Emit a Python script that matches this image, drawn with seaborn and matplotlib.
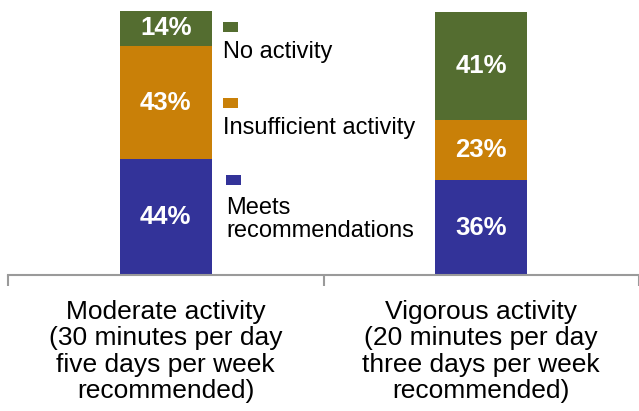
import matplotlib
matplotlib.use("Agg")
import matplotlib.pyplot as plt
import seaborn as sns
import pandas as pd
import numpy as np
from matplotlib.patches import Rectangle

# Share of adults by activity level, per guideline
categories = ["Moderate activity\n(30 minutes per day\nfive days per week\nrecommended)",
              "Vigorous activity\n(20 minutes per day\nthree days per week\nrecommended)"]
meets = [44, 36]
insufficient = [43, 23]
no_activity = [14, 41]
series_names = ["Meets\nrecommendations", "Insufficient activity", "No activity"]
colors = {"Meets\nrecommendations": "#333399",
          "Insufficient activity": "#C98008",
          "No activity": "#546D30"}

sns.set_theme(style="white")
plt.rcParams["font.family"] = ["Liberation Sans", "DejaVu Sans"]

W, H = 639, 411
fig = plt.figure(figsize=(W / 100, H / 100), dpi=100)
ax_l, ax_r, ax_b, ax_t = 8, 639, 275, 11
px_per_cat = 318.5
ax = fig.add_axes([ax_l / W, 1 - ax_b / H, (ax_r - ax_l) / W, (ax_b - ax_t) / H])

layers = [meets, insufficient, no_activity]
cum = np.cumsum(np.array(layers), axis=0)
df = pd.DataFrame({"category": categories * 3,
                   "series": np.repeat(series_names, 2),
                   "top": cum.ravel(),
                   "value": np.array(layers).ravel()})

# Stacked bars: draw the cumulative totals from the top layer down
for name in series_names[::-1]:
    sub = df[df["series"] == name]
    sns.barplot(data=sub, x="category", y="top", order=categories,
                color=colors[name], saturation=1, width=93 / px_per_cat,
                linewidth=0, ax=ax)

# Value labels centred in each segment
for i in range(len(categories)):
    base = 0
    for vals in layers:
        v = vals[i]
        ax.text(i, base + v / 2, f"{v}%", ha="center", va="center",
                color="white", fontsize=18.5, fontweight="bold")
        base += v

ax.set_ylim(0, 100.5)
ax.set_xlim(-0.5, -0.5 + (ax_r - ax_l) / px_per_cat)
ax.set_ylabel("")
ax.set_xlabel("")
ax.set_yticks([])
for s in ["top", "right", "left"]:
    ax.spines[s].set_visible(False)
ax.spines["bottom"].set_color("#9A9A9A")
ax.spines["bottom"].set_linewidth(1.5)

ax.set_xticks([-0.5, 0.5, 1.5], minor=True)
ax.tick_params(axis="x", which="minor", length=8, width=1.5, color="#9A9A9A",
               direction="out", bottom=True)
ax.tick_params(axis="x", which="major", length=0, pad=18, labelsize=19,
               labelcolor="black")
for lbl in ax.get_xticklabels():
    lbl.set_linespacing(1.12)
    lbl.set_multialignment("center")

# Legend: small square above each label
legend_items = [("No activity", 223, 22, 57),
                ("Insufficient activity", 223, 98, 133),
                ("Meets\nrecommendations", 226, 175, 213)]
for name, x, sq_y, base_y in legend_items:
    fig.patches.append(Rectangle((x / W, 1 - (sq_y + 10) / H), 15 / W, 10 / H,
                                 transform=fig.transFigure,
                                 facecolor=colors[name], edgecolor="none"))
    fig.text(x / W, 1 - (base_y - 16) / H, name, ha="left", va="top",
             fontsize=17, color="black", linespacing=1.05)

fig.savefig("out.png", dpi=100)
